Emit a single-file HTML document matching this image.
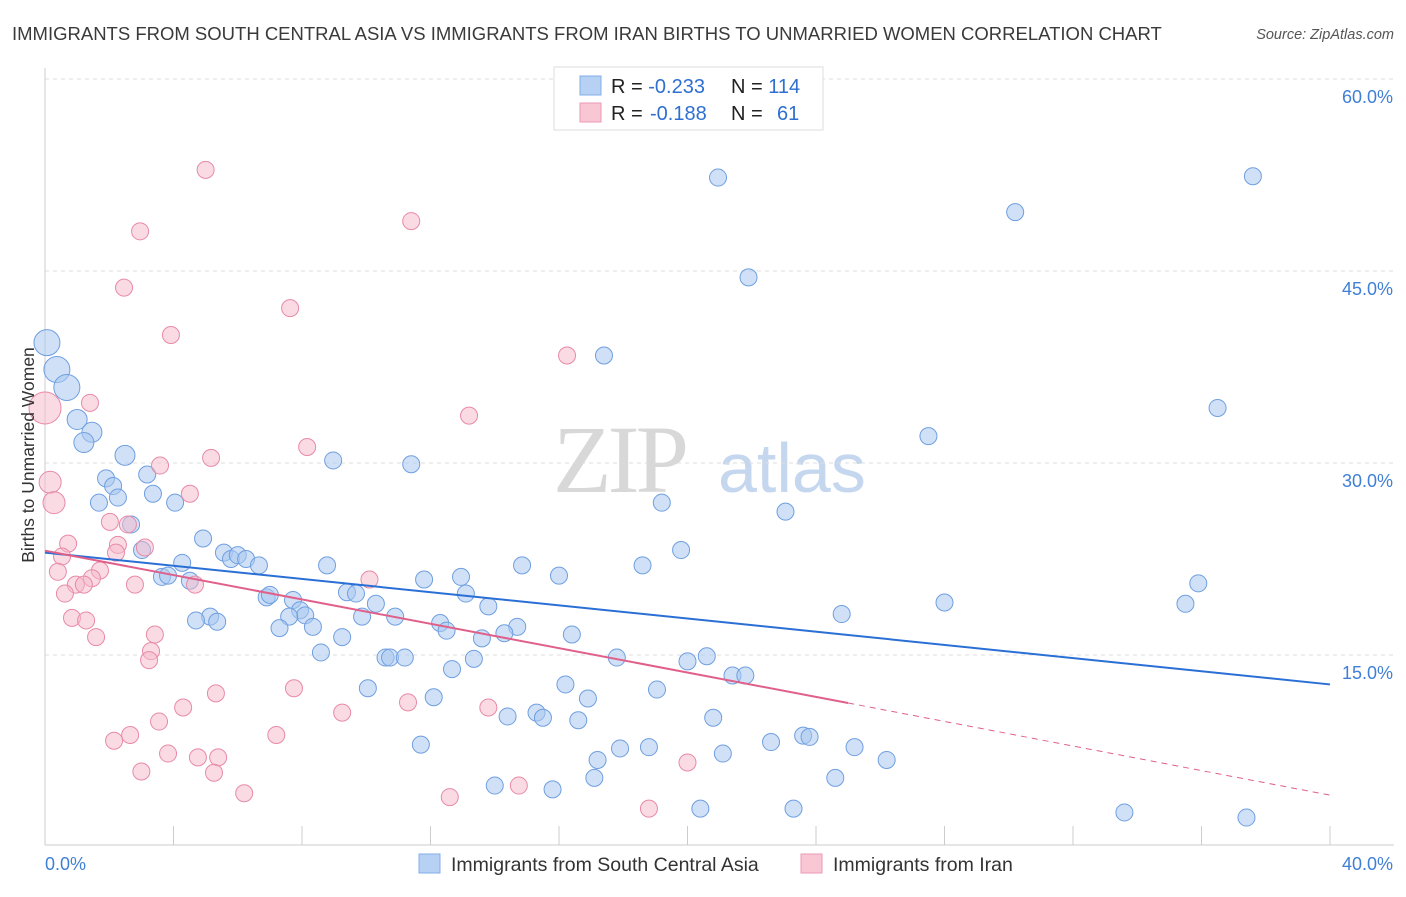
<!DOCTYPE html>
<html><head><meta charset="utf-8"><style>
body{margin:0;background:#fff;font-family:"Liberation Sans",sans-serif;}
</style></head><body>
<svg id="chart" width="1406" height="892" xmlns="http://www.w3.org/2000/svg" font-family="Liberation Sans, sans-serif">
<text x="12" y="40" font-size="18.5" fill="#3a3a3a">IMMIGRANTS FROM SOUTH CENTRAL ASIA VS IMMIGRANTS FROM IRAN BIRTHS TO UNMARRIED WOMEN CORRELATION CHART</text>
<text x="1394" y="39" font-size="14.5" fill="#555" font-style="italic" text-anchor="end">Source: ZipAtlas.com</text>
<g>
<text x="553" y="492" font-size="96" font-family="Liberation Serif, serif" fill="#d8d8d8" letter-spacing="-4">ZIP</text>
<text x="718" y="492" font-size="70" fill="#c5d7ef">atlas</text>
</g>
<g id="grid"></g><g id="axes"></g><g id="pts"></g><g id="lines"></g>
<text x="34" y="455" font-size="17.5" fill="#333" text-anchor="middle" transform="rotate(-90 34 455)" dy="0">Births to Unmarried Women</text>
<g>
<rect x="554" y="67" width="269" height="63" fill="#fff" stroke="#ddd"/>
<rect x="580" y="76" width="21" height="19" fill="#b6d1f4" stroke="#80aee8"/>
<rect x="580" y="103" width="21" height="19" fill="#f9c6d4" stroke="#ec9ab4"/>
<text x="611" y="93" font-size="20" fill="#222">R = <tspan fill="#2f6fd0">-0.233</tspan><tspan x="731">N = </tspan><tspan fill="#2f6fd0">114</tspan></text>
<text x="611" y="120" font-size="20" fill="#222">R = <tspan x="650" fill="#2f6fd0">-0.188</tspan><tspan x="731">N = </tspan><tspan x="777" fill="#2f6fd0">61</tspan></text>
</g>
<g>
<rect x="419" y="854" width="21" height="19" fill="#b6d1f4" stroke="#80aee8"/>
<text x="451" y="871" font-size="19.5" fill="#333">Immigrants from South Central Asia</text>
<rect x="801" y="854" width="21" height="19" fill="#f9c6d4" stroke="#ec9ab4"/>
<text x="833" y="871" font-size="19.5" fill="#333">Immigrants from Iran</text>
</g>
</svg>
<script>
const yTicks=[15,30,45,60];
const yTickLabels=["15.0%","30.0%","45.0%","60.0%"];
const xTickLabels=["0.0%","40.0%"];
const blueX=[0.06,0.37,0.68,1.0,1.46,1.21,2.49,8.97,11.4,1.9,3.18,2.12,2.27,1.68,3.36,4.05,2.68,3.02,4.92,4.27,5.57,5.79,6.0,6.26,6.66,3.64,3.83,4.51,8.78,11.8,12.95,14.85,16.0,18.6,19.8,19.2,23.05,17.4,20.95,21.9,27.5,30.2,36.5,37.6,35.9,35.5,28.0,24.8,6.9,7.0,7.72,7.94,8.1,7.6,8.34,7.3,5.14,4.7,5.36,9.4,9.68,10.3,9.87,10.9,13.1,13.8,12.3,12.5,14.7,14.3,13.6,9.25,8.59,10.6,10.74,11.2,12.67,13.35,16.4,17.8,20.0,20.6,21.4,21.8,10.05,12.1,16.2,16.9,19.05,14.4,15.3,15.5,16.6,20.8,11.7,17.9,18.8,17.2,21.1,22.6,23.6,23.8,25.2,26.2,17.1,24.6,14.0,15.8,20.4,23.3,33.6,37.4];
const blueY=[39.4,37.3,35.9,33.4,32.4,31.6,30.6,30.2,29.9,28.8,29.1,28.2,27.3,26.9,27.6,26.9,25.2,23.2,24.1,22.2,23.0,22.5,22.8,22.5,22.0,21.1,21.2,20.8,22.0,20.9,21.1,22.0,21.2,22.0,23.2,26.9,26.2,38.4,52.3,44.5,32.1,49.6,34.3,52.4,20.6,19.0,19.1,18.2,19.5,19.7,19.3,18.5,18.1,18.0,17.2,17.1,18.0,17.7,17.6,19.9,19.8,19.0,18.0,18.0,19.8,18.8,17.5,16.9,17.2,16.7,16.3,16.4,15.2,14.8,14.8,14.8,13.9,14.7,16.6,14.8,14.5,14.9,13.4,13.4,12.4,11.7,12.7,11.6,12.3,10.2,10.5,10.1,9.9,10.1,8.0,7.7,7.8,6.8,7.3,8.2,8.7,8.6,7.8,6.8,5.4,5.4,4.8,4.5,3.0,3.0,2.7,2.3];
const pinkX=[5.0,2.96,11.4,2.46,7.63,3.92,16.25,0,1.4,13.2,8.16,5.17,3.58,0.16,0.28,4.51,2.02,2.58,2.27,3.11,0.72,0.53,2.21,0.4,1.71,1.46,0.96,1.21,2.8,4.67,10.1,0.62,0.84,1.28,1.59,3.42,3.3,3.24,7.75,5.32,11.3,4.3,13.8,9.25,3.55,2.65,2.15,7.2,3.83,4.76,5.39,3.0,5.26,6.2,12.6,14.75,18.8,20.0];
const pinkY=[52.9,48.1,48.9,43.7,42.1,40.0,38.4,34.3,34.7,33.7,31.25,30.4,29.8,28.5,26.9,27.6,25.4,25.2,23.6,23.4,23.7,22.7,23.0,21.5,21.6,21.0,20.5,20.5,20.5,20.5,20.9,19.8,17.9,17.7,16.4,16.6,15.3,14.6,12.4,12.0,11.3,10.9,10.9,10.5,9.8,8.75,8.3,8.75,7.3,7.0,7.0,5.9,5.8,4.2,3.9,4.8,3.0,6.6];
const blueTrend=[23.0,12.7];
const pinkTrend=[23.15,11.25,4.05];
const pinkSolidEnd=25;

const X0=45,X1=1330,Y0=847,PPU=12.8;
const sx=v=>X0+(X1-X0)*v/40, sy=v=>Y0-v*PPU;
const NS="http://www.w3.org/2000/svg";
function mk(t,a,p){const e=document.createElementNS(NS,t);for(const k in a)e.setAttribute(k,a[k]);p.appendChild(e);return e;}
const grid=document.getElementById('grid'),axes=document.getElementById('axes'),pts=document.getElementById('pts'),lines=document.getElementById('lines');
yTicks.forEach((t,i)=>{
 const l=mk('line',{x1:45,x2:1394,y1:sy(t),y2:sy(t),stroke:'#ddd','stroke-dasharray':'4,4'},grid);
 
 
 const tx=mk('text',{x:1393,y:sy(t)+24,'font-size':18,fill:'#3f7fd6','text-anchor':'end'},axes);
 tx.textContent=yTickLabels[i];
 
 
});
const ax=mk('line',{x1:45,x2:1394,y1:845,y2:845,stroke:'#ccc'},axes);


const ay=mk('line',{x1:45,x2:45,y1:68,y2:845,stroke:'#ccc'},axes);


for(let v=0;v<=40;v+=4){const tk=mk('line',{x1:sx(v),x2:sx(v),y1:826,y2:845,stroke:'#ccc'},axes);
 
 }
const xl0=mk('text',{x:45,y:870,'font-size':18,fill:'#3f7fd6'},axes);xl0.textContent=xTickLabels[0];


const xl1=mk('text',{x:1393,y:870,'font-size':18,fill:'#3f7fd6','text-anchor':'end'},axes);xl1.textContent=xTickLabels[1];


blueX.forEach((x,i)=>{const r=i<3?13:(i<7?10:8.5);
 const c=mk('circle',{cx:sx(x),cy:sy(blueY[i]),r:r,fill:'#a9c8f0','fill-opacity':0.55,stroke:'#6f9fe0','stroke-width':1},pts);
 
 });
pinkX.forEach((x,i)=>{const r=i==7?16:(i==13||i==14?11:8.5);
 const c=mk('circle',{cx:sx(x),cy:sy(pinkY[i]),r:r,fill:'#f5b7c9','fill-opacity':0.5,stroke:'#e88aa8','stroke-width':1},pts);
 
 });
const bl=mk('line',{x1:sx(0),y1:sy(blueTrend[0]),x2:sx(40),y2:sy(blueTrend[1]),stroke:'#2a6fd6','stroke-width':2},lines);


const pl=mk('line',{x1:sx(0),y1:sy(pinkTrend[0]),x2:sx(pinkSolidEnd),y2:sy(pinkTrend[1]),stroke:'#e0608a','stroke-width':2},lines);


const pd=mk('line',{x1:sx(pinkSolidEnd),y1:sy(pinkTrend[1]),x2:sx(40),y2:sy(pinkTrend[2]),stroke:'#e0608a','stroke-width':1,'stroke-dasharray':'6,5'},lines);


</script>
</body></html>
